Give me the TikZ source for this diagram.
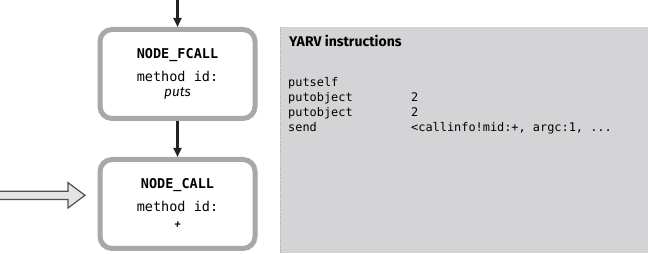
\documentclass[tikz,border=0pt]{standalone}
\usepackage{fontspec}
\setmainfont{Fira Sans}
\setsansfont{Fira Sans}
\setmonofont{DejaVu Sans Mono}
\usetikzlibrary{arrows.meta}
\definecolor{boxgray}{RGB}{168,168,168}
\definecolor{panelgray}{RGB}{212,212,214}
\definecolor{ptrfill}{RGB}{228,228,228}
\definecolor{ptredge}{RGB}{80,80,80}
\definecolor{ink}{RGB}{34,34,34}
\newcommand\sendinfo{<callinfo!mid:+, argc:1, ...}

\begin{document}
\begin{tikzpicture}[x=1pt, y=1pt,
    astnode/.style={draw=boxgray, line width=5pt, rounded corners=12pt, fill=white,
      minimum width=155pt, minimum height=89pt, align=center, inner sep=0pt,
      font=\fontsize{13.5}{15}\selectfont\ttfamily},
    link/.style={draw=ink, line width=2.2pt, -{Triangle[length=9pt,width=8pt]}},
    insn/.style={anchor=base west, inner sep=0pt, font=\fontsize{11.9}{14}\selectfont\ttfamily}]
  \useasboundingbox (0,0) rectangle (648,254);
  \fill[panelgray] (280,1) rectangle (648,227);
  \draw[gray!60, densely dotted, line width=0.8pt] (280.4,1) -- (280.4,227);
  \node[anchor=base west, inner sep=0pt, font=\fontsize{14}{16}\selectfont\sffamily\bfseries]
    (yarv) at (289,207.3) {YARV instructions};
  \foreach \op/\arg [count=\k] in {putself/, putobject/2, putobject/2, send/\sendinfo} {
    \node[insn] (op\k) at (288, 182 - 15*\k) {\op};
    \ifnum\k>1
      \node[insn] (arg\k) at (411, 182 - 15*\k) {\arg};
    \fi
  }
  \coordinate (entry) at (177.5,254);
  \node[astnode] (fcall) at (177.5,180)
    {{\bfseries NODE\_FCALL}\\[7.7pt] method id:\\ {\fontsize{13.5}{15}\selectfont\sffamily\itshape puts}};
  \node[astnode] (call) at (177.5,50)
    {{\bfseries NODE\_CALL}\\[7.7pt] method id:\\[3pt] {\fontsize{15}{15}\selectfont\sffamily\itshape +}};
  \draw[link] (entry) -- (fcall);
  \draw[link] (fcall) -- (call);
  \draw[draw=ptredge, fill=ptrfill, line width=1.2pt, line join=miter]
    (-3,54.5) -- (68,54.5) -- (68,46) -- (85,58.7) -- (68,71.4) -- (68,62.8) -- (-3,62.8) -- cycle;
\end{tikzpicture}
\end{document}
